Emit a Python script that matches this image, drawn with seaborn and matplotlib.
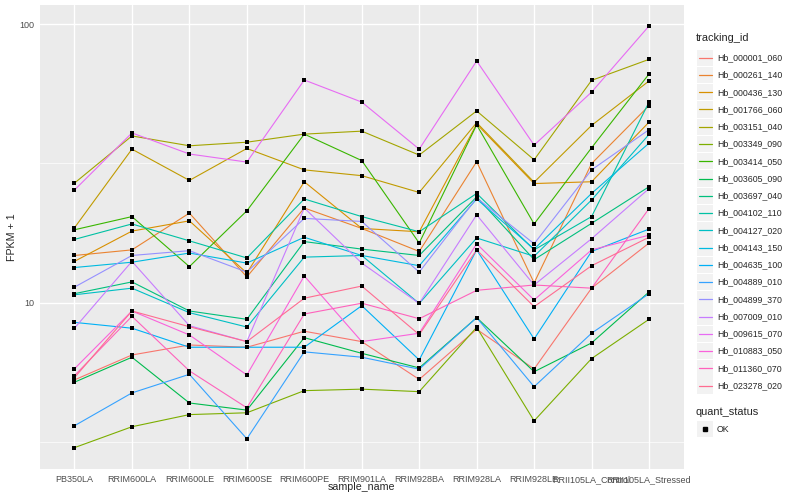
import pandas as pd
import seaborn as sns
import matplotlib.pyplot as plt
from matplotlib.lines import Line2D
from matplotlib.patches import Rectangle
from matplotlib.ticker import NullFormatter

samples = ['PB350LA', 'RRIM600LA', 'RRIM600LE', 'RRIM600SE', 'RRIM600PE', 'RRIM901LA',
           'RRIM928BA', 'RRIM928LA', 'RRIM928LE', 'RRII105LA_Control', 'RRII105LA_Stressed']

tracking_ids = ['Hb_000001_060', 'Hb_000261_140', 'Hb_000436_130', 'Hb_001766_060',
                'Hb_003151_040', 'Hb_003349_090', 'Hb_003414_050', 'Hb_003605_090',
                'Hb_003697_040', 'Hb_004102_110', 'Hb_004127_020', 'Hb_004143_150',
                'Hb_004635_100', 'Hb_004889_010', 'Hb_004899_370', 'Hb_007009_010',
                'Hb_009615_070', 'Hb_010883_050', 'Hb_011360_070', 'Hb_023278_020']

# FPKM + 1, one list per gene, in sample order
hb_000001_060 = [5.30, 6.51, 7.07, 6.94, 7.92, 7.27, 5.32, 8.05, 5.80, 11.3, 16.4]
hb_000261_140 = [14.8, 15.5, 21.0, 12.4, 21.9, 18.5, 15.3, 32.1, 11.8, 31.6, 51.0]
hb_000436_130 = [14.1, 18.1, 19.7, 12.8, 27.2, 18.5, 18.0, 43.8, 26.8, 27.2, 44.5]
hb_001766_060 = [18.6, 35.6, 27.5, 35.8, 30.0, 28.6, 24.9, 44.3, 27.1, 43.3, 62.5]
hb_003151_040 = [26.9, 39.7, 36.6, 37.7, 40.3, 41.3, 33.9, 48.8, 32.6, 62.8, 74.7]
hb_003349_090 = [3.03, 3.60, 3.98, 4.04, 4.85, 4.91, 4.81, 8.18, 3.78, 6.32, 8.74]
hb_003414_050 = [18.3, 20.4, 13.5, 21.4, 40.3, 32.4, 16.4, 43.5, 19.2, 36.0, 66.2]
hb_003605_090 = [5.20, 6.39, 4.38, 4.13, 7.51, 6.60, 5.85, 8.86, 5.67, 7.19, 10.95]
hb_003697_040 = [10.8, 11.9, 9.36, 8.74, 16.6, 15.6, 14.8, 24.0, 14.3, 19.3, 26.1]
hb_004102_110 = [16.9, 19.2, 16.7, 14.5, 23.6, 20.4, 18.0, 24.7, 15.5, 20.4, 52.5]
hb_004127_020 = [10.7, 11.3, 9.23, 8.20, 14.6, 14.8, 9.96, 17.1, 14.7, 23.4, 40.2]
hb_004143_150 = [13.4, 14.0, 15.1, 13.9, 17.2, 14.8, 13.6, 23.6, 15.6, 24.7, 37.4]
hb_004635_100 = [8.52, 8.12, 6.94, 6.94, 6.94, 9.78, 6.25, 15.5, 7.43, 15.3, 18.4]
hb_004889_010 = [3.63, 4.76, 5.55, 3.26, 6.68, 6.39, 5.79, 8.86, 5.01, 7.79, 10.8]
hb_004899_370 = [11.4, 14.8, 15.4, 12.9, 20.1, 19.6, 12.9, 23.8, 16.3, 30.0, 41.8]
hb_007009_010 = [8.12, 14.1, 8.29, 7.27, 21.9, 13.9, 9.96, 20.7, 11.6, 17.0, 25.7]
hb_009615_070 = [25.4, 40.7, 34.2, 32.0, 63.0, 52.5, 35.6, 73.7, 36.8, 57.0, 98.4]
hb_010883_050 = [5.81, 9.36, 7.68, 5.52, 12.5, 7.27, 7.79, 16.3, 10.25, 15.5, 17.5]
hb_011360_070 = [5.49, 8.96, 5.71, 4.21, 9.13, 9.98, 8.78, 11.1, 11.6, 11.3, 21.8]
hb_023278_020 = [5.40, 9.36, 8.22, 7.27, 10.4, 11.5, 7.70, 15.5, 9.70, 13.6, 17.2]

series = [hb_000001_060, hb_000261_140, hb_000436_130, hb_001766_060, hb_003151_040,
          hb_003349_090, hb_003414_050, hb_003605_090, hb_003697_040, hb_004102_110,
          hb_004127_020, hb_004143_150, hb_004635_100, hb_004889_010, hb_004899_370,
          hb_007009_010, hb_009615_070, hb_010883_050, hb_011360_070, hb_023278_020]

# ggplot hue_pal() for 20 levels
colors = ['#F8766D', '#EA8331', '#D89000', '#C09B00', '#A3A500', '#7CAE00', '#39B600',
          '#00BB4E', '#00BF7D', '#00C1A3', '#00BFC4', '#00BAE0', '#00B0F6', '#35A2FF',
          '#9590FF', '#C77CFF', '#E76BF3', '#FA62DB', '#FF62BC', '#FF6C91']

rows = []
for tid, vals in zip(tracking_ids, series):
    for s, v in zip(samples, vals):
        rows.append({'tracking_id': tid, 'sample_name': s, 'fpkm': v, 'quant_status': 'OK'})
df = pd.DataFrame(rows)

sns.set_theme(style='darkgrid')
plt.rcParams['font.family'] = ['Liberation Sans', 'DejaVu Sans']

fig = plt.figure(figsize=(8, 5), dpi=100)
W, H = 800, 500
ax = fig.add_axes([40 / W, 1 - 469 / H, (683.5 - 40) / W, (469 - 5) / H])
ax.set_facecolor('#EBEBEB')

sns.lineplot(data=df, x='sample_name', y='fpkm', hue='tracking_id', hue_order=tracking_ids,
             palette=colors, sort=False, estimator=None, linewidth=0.8, legend=False, ax=ax)
sns.scatterplot(data=df, x='sample_name', y='fpkm', color='black', marker='s', s=9,
                linewidth=0, legend=False, ax=ax, zorder=3)

ax.set_yscale('log')
ax.set_xlim(-0.6, len(samples) - 0.4)
ax.set_ylim(2.54, 117)
ax.set_yticks([10, 100])
ax.set_yticklabels(['10', '100'])
ax.set_yticks([10 ** 0.5, 10 ** 1.5], minor=True)
ax.yaxis.set_minor_formatter(NullFormatter())
ax.grid(which='major', color='white', linewidth=1.0)
ax.grid(which='minor', axis='y', color='white', linewidth=0.5)
ax.set_axisbelow(True)
for sp in ax.spines.values():
    sp.set_visible(False)
ax.tick_params(which='major', length=2.7, width=0.6, color='#333333', labelsize=6.5,
               labelcolor='#4D4D4D', pad=1.5)
ax.tick_params(which='minor', length=0)

ax.set_xlabel('sample_name', fontsize=7.7)
ax.set_ylabel('FPKM + 1', fontsize=7.7)
ax.xaxis.set_label_coords(0.5, -0.029)
ax.yaxis.set_label_coords(-0.035, 0.5)

# legend drawn by hand, ggplot style
def fx(px):
    return px / W

def fy(py):
    return 1 - py / H

fig.text(fx(696), fy(38), 'tracking_id', fontsize=7.9, va='center', ha='left')
key_y0, key_step = 57.7, 17.26
for i, (tid, c) in enumerate(zip(tracking_ids, colors)):
    yc = key_y0 + i * key_step
    fig.patches.append(Rectangle((fx(697), fy(yc + 8.2)), 16 / W, 16.4 / H,
                                 transform=fig.transFigure, facecolor='#F2F2F2',
                                 edgecolor='none'))
    fig.lines.append(Line2D([fx(698.5), fx(711.5)], [fy(yc), fy(yc)], color=c,
                            linewidth=0.9, transform=fig.transFigure))
    fig.text(fx(717), fy(yc), tid, fontsize=6.3, va='center', ha='left')

fig.text(fx(696), fy(412), 'quant_status', fontsize=7.9, va='center', ha='left')
fig.patches.append(Rectangle((fx(697), fy(437.2)), 16 / W, 16.4 / H,
                             transform=fig.transFigure, facecolor='#F2F2F2', edgecolor='none'))
fig.lines.append(Line2D([fx(705)], [fy(429)], marker='s', markersize=2.8, color='black',
                        linestyle='none', transform=fig.transFigure))
fig.text(fx(717), fy(429), 'OK', fontsize=6.3, va='center', ha='left')

fig.savefig('out.png', dpi=100)
